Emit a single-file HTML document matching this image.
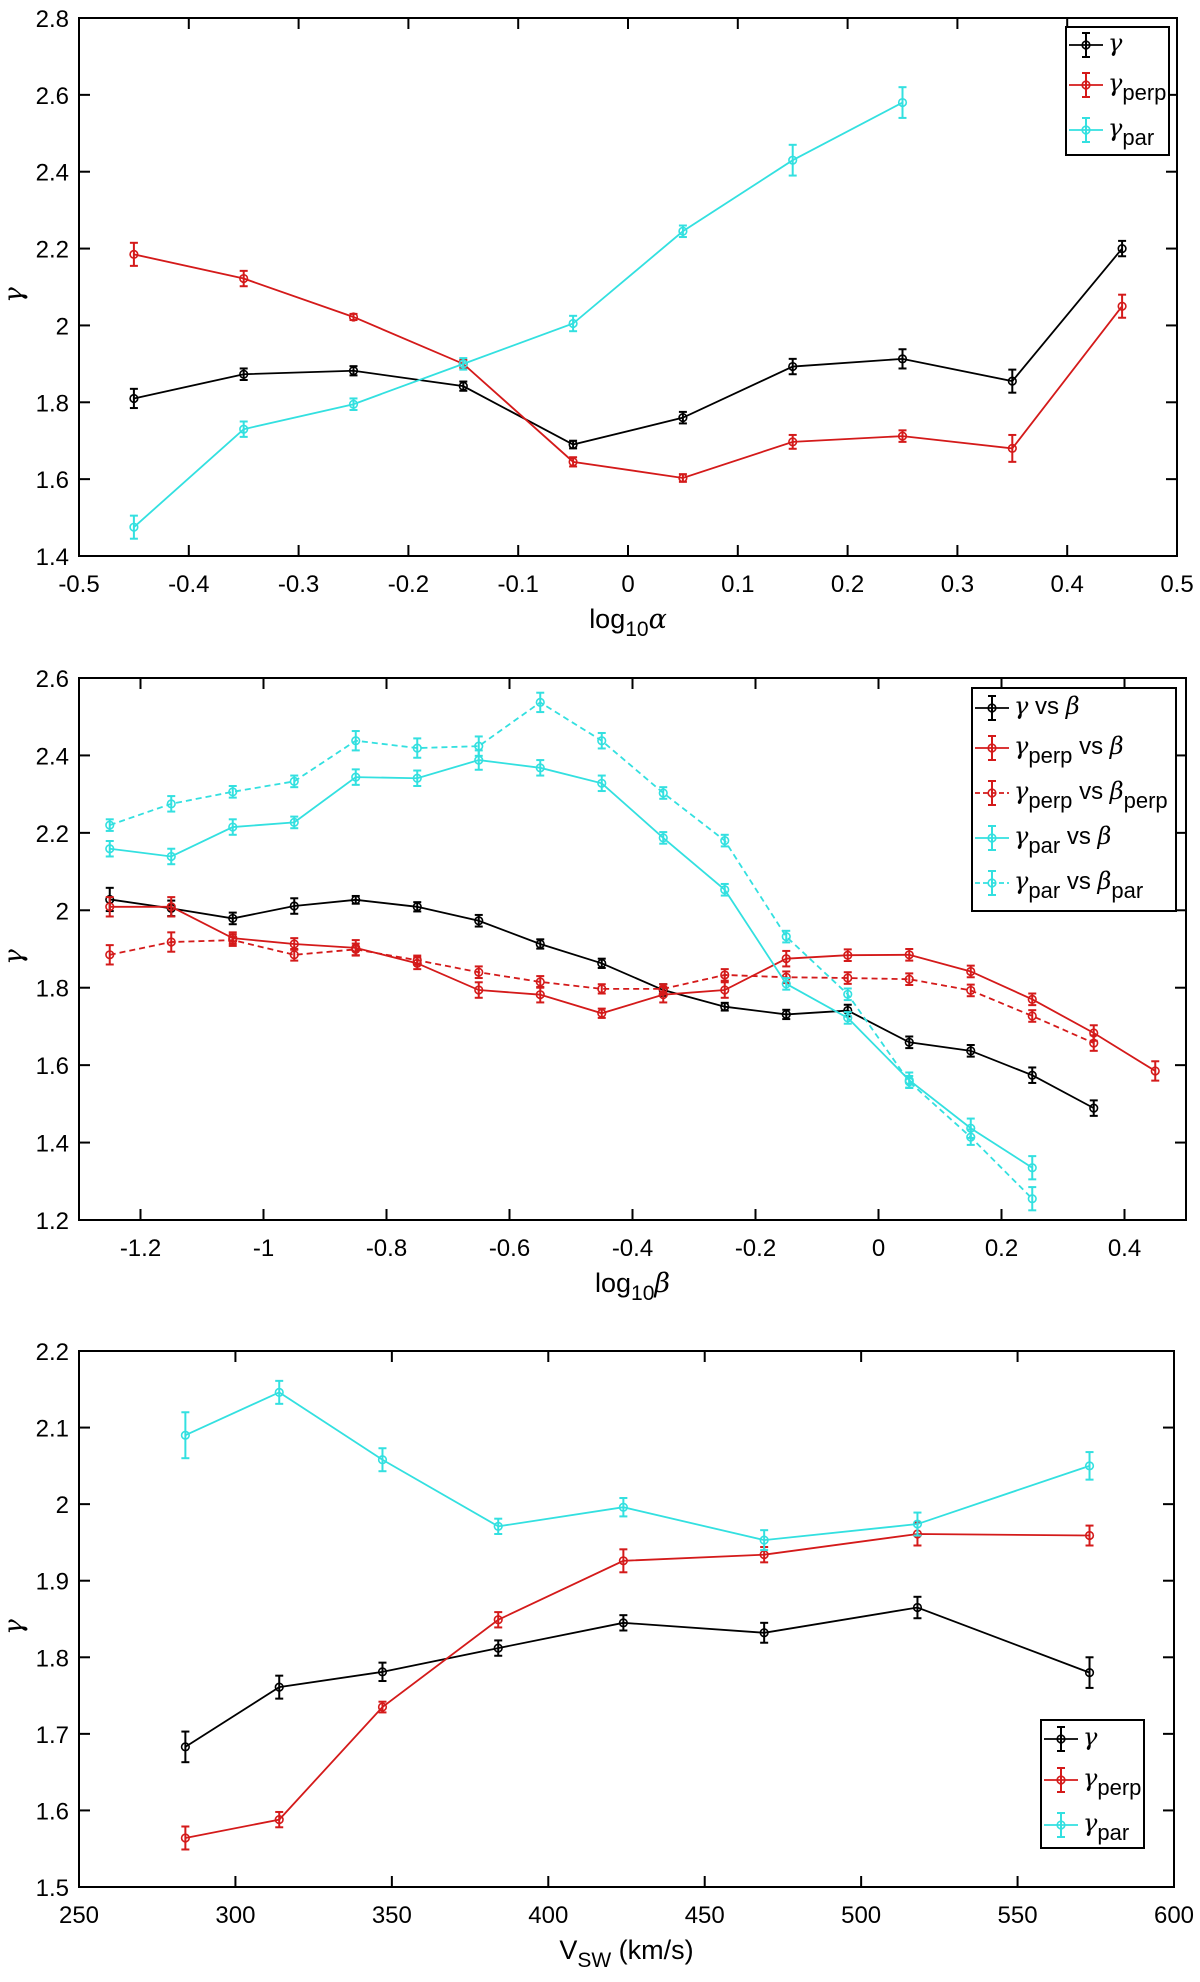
<!DOCTYPE html>
<html><head><meta charset="utf-8">
<style>
html,body{margin:0;padding:0;background:#fff;}
svg{display:block;font-family:"Liberation Sans",sans-serif;}
</style></head>
<body>
<svg id="fig" width="1200" height="1982" viewBox="0 0 1200 1982" xmlns="http://www.w3.org/2000/svg"></svg>
<script>
// ---------- Panel 1 data ----------
const p1X = [-0.45,-0.35,-0.25,-0.15,-0.05,0.05,0.15,0.25,0.35,0.45];
const p1Gamma = [1.81,1.873,1.882,1.842,1.69,1.76,1.893,1.913,1.855,2.2];
const p1GammaErr = [0.025,0.015,0.012,0.012,0.01,0.015,0.02,0.025,0.03,0.02];
const p1Perp = [2.185,2.122,2.022,1.9,1.645,1.603,1.697,1.712,1.68,2.05];
const p1PerpErr = [0.03,0.02,0.008,0.01,0.012,0.01,0.018,0.015,0.035,0.03];
const p1ParX = [-0.45,-0.35,-0.25,-0.15,-0.05,0.05,0.15,0.25];
const p1Par = [1.475,1.73,1.795,1.9,2.005,2.245,2.43,2.58];
const p1ParErr = [0.03,0.02,0.015,0.015,0.02,0.015,0.04,0.04];
const p1XTicks = [-0.5,-0.4,-0.3,-0.2,-0.1,0,0.1,0.2,0.3,0.4,0.5];
const p1XTickLabels = ["-0.5","-0.4","-0.3","-0.2","-0.1","0","0.1","0.2","0.3","0.4","0.5"];
const p1YTicks = [1.4,1.6,1.8,2,2.2,2.4,2.6,2.8];
const p1YTickLabels = ["1.4","1.6","1.8","2","2.2","2.4","2.6","2.8"];

// ---------- Panel 2 data ----------
const p2XGamma = [-1.25,-1.15,-1.05,-0.95,-0.85,-0.75,-0.65,-0.55,-0.45,-0.35,-0.25,-0.15,-0.05,0.05,0.15,0.25,0.35];
const p2Gamma = [2.028,2.005,1.979,2.011,2.027,2.009,1.973,1.913,1.863,1.794,1.751,1.731,1.741,1.659,1.637,1.574,1.489];
const p2GammaErr = [0.03,0.02,0.015,0.02,0.01,0.012,0.015,0.012,0.012,0.015,0.01,0.012,0.015,0.015,0.015,0.02,0.02];
const p2XPerp = [-1.25,-1.15,-1.05,-0.95,-0.85,-0.75,-0.65,-0.55,-0.45,-0.35,-0.25,-0.15,-0.05,0.05,0.15,0.25,0.35,0.45];
const p2Perp = [2.009,2.009,1.928,1.913,1.903,1.863,1.794,1.782,1.734,1.782,1.794,1.875,1.884,1.885,1.842,1.77,1.683,1.585];
const p2PerpErr = [0.025,0.025,0.015,0.015,0.02,0.015,0.02,0.02,0.012,0.02,0.02,0.02,0.015,0.015,0.015,0.015,0.02,0.025];
const p2XPerpB = [-1.25,-1.15,-1.05,-0.95,-0.85,-0.75,-0.65,-0.55,-0.45,-0.35,-0.25,-0.15,-0.05,0.05,0.15,0.25,0.35];
const p2PerpB = [1.885,1.918,1.923,1.885,1.899,1.871,1.84,1.815,1.797,1.797,1.833,1.827,1.825,1.822,1.793,1.727,1.657];
const p2PerpBErr = [0.025,0.025,0.015,0.015,0.015,0.012,0.015,0.015,0.012,0.012,0.015,0.015,0.015,0.015,0.015,0.015,0.02];
const p2XPar = [-1.25,-1.15,-1.05,-0.95,-0.85,-0.75,-0.65,-0.55,-0.45,-0.35,-0.25,-0.15,-0.05,0.05,0.15,0.25];
const p2Par = [2.159,2.139,2.215,2.227,2.344,2.341,2.388,2.368,2.328,2.187,2.053,1.81,1.722,1.561,1.437,1.335];
const p2ParErr = [0.02,0.02,0.02,0.015,0.02,0.02,0.025,0.02,0.02,0.015,0.015,0.015,0.015,0.02,0.025,0.03];
const p2ParB = [2.22,2.275,2.306,2.333,2.438,2.419,2.424,2.537,2.438,2.303,2.18,1.932,1.783,1.557,1.414,1.255];
const p2ParBErr = [0.015,0.02,0.015,0.015,0.025,0.025,0.025,0.025,0.02,0.015,0.015,0.015,0.015,0.015,0.02,0.03];
const p2XTicks = [-1.2,-1,-0.8,-0.6,-0.4,-0.2,0,0.2,0.4];
const p2XTickLabels = ["-1.2","-1","-0.8","-0.6","-0.4","-0.2","0","0.2","0.4"];
const p2YTicks = [1.2,1.4,1.6,1.8,2,2.2,2.4,2.6];
const p2YTickLabels = ["1.2","1.4","1.6","1.8","2","2.2","2.4","2.6"];

// ---------- Panel 3 data ----------
const p3X = [284,314,347,384,424,469,518,573];
const p3Gamma = [1.683,1.761,1.781,1.812,1.845,1.832,1.865,1.78];
const p3GammaErr = [0.02,0.015,0.012,0.01,0.01,0.013,0.014,0.02];
const p3Perp = [1.564,1.588,1.735,1.849,1.926,1.934,1.961,1.959];
const p3PerpErr = [0.015,0.01,0.007,0.01,0.015,0.01,0.015,0.013];
const p3Par = [2.09,2.146,2.058,1.971,1.996,1.953,1.974,2.05];
const p3ParErr = [0.03,0.015,0.015,0.01,0.012,0.013,0.015,0.018];
const p3XTicks = [250,300,350,400,450,500,550,600];
const p3XTickLabels = ["250","300","350","400","450","500","550","600"];
const p3YTicks = [1.5,1.6,1.7,1.8,1.9,2,2.1,2.2];
const p3YTickLabels = ["1.5","1.6","1.7","1.8","1.9","2","2.1","2.2"];

const BLACK="#000", RED="#d41a1a", CYAN="#33e0e0";
const NS="http://www.w3.org/2000/svg";
const svg=document.getElementById('fig');
function mk(tag,attrs,parent){const e=document.createElementNS(NS,tag);for(const k in attrs)e.setAttribute(k,attrs[k]);(parent||svg).appendChild(e);return e;}

function panel(name,box,xr,yr,xt,xtl,yt,ytl,xlabelFn){
  const g=mk('g',{});
  
  
  const sx=v=>box.l+(v-xr[0])/(xr[1]-xr[0])*(box.r-box.l);
  const sy=v=>box.b-(v-yr[0])/(yr[1]-yr[0])*(box.b-box.t);
  const frame=mk('rect',{x:box.l,y:box.t,width:box.r-box.l,height:box.b-box.t,fill:'none',stroke:'#000','stroke-width':2},g);
  
  
  xt.forEach((v,i)=>{
    const x=sx(v);
    mk('line',{x1:x,x2:x,y1:box.b,y2:box.b-11,stroke:'#000','stroke-width':2},g);
    mk('line',{x1:x,x2:x,y1:box.t,y2:box.t+11,stroke:'#000','stroke-width':2},g);
    const t=mk('text',{x:x,y:box.b+36,'text-anchor':'middle','font-size':24},g);
    t.textContent=xtl[i];
    
    
  });
  yt.forEach((v,i)=>{
    const y=sy(v);
    mk('line',{x1:box.l,x2:box.l+11,y1:y,y2:y,stroke:'#000','stroke-width':2},g);
    mk('line',{x1:box.r,x2:box.r-11,y1:y,y2:y,stroke:'#000','stroke-width':2},g);
    const t=mk('text',{x:box.l-10,y:y+9,'text-anchor':'end','font-size':24},g);
    t.textContent=ytl[i];
    
    
  });
  const yl=mk('text',{x:0,y:0,'font-size':26,'font-style':'italic','font-family':'"DejaVu Serif",serif',transform:`translate(22,${(box.t+box.b)/2+8}) rotate(-90)`,'text-anchor':'middle'},g);
  yl.textContent='γ';
  
  
  xlabelFn(g,(box.l+box.r)/2,box.b+80);
  return {g,sx,sy};
}

function series(p,name,xs,ys,es,color,dash){
  const g=mk('g',{},p.g);
  
  
  const pts=xs.map((x,i)=>p.sx(x)+','+p.sy(ys[i])).join(' ');
  const line=mk('polyline',{points:pts,fill:'none',stroke:color,'stroke-width':1.8,'stroke-dasharray':dash?'6,4':'none'},g);
  
  
  xs.forEach((x,i)=>{
    const cx=p.sx(x), y1=p.sy(ys[i]-es[i]), y2=p.sy(ys[i]+es[i]);
    mk('line',{x1:cx,x2:cx,y1:y1,y2:y2,stroke:color,'stroke-width':2},g);
    mk('line',{x1:cx-4,x2:cx+4,y1:y1,y2:y1,stroke:color,'stroke-width':2},g);
    mk('line',{x1:cx-4,x2:cx+4,y1:y2,y2:y2,stroke:color,'stroke-width':2},g);
    const c=mk('circle',{cx:cx,cy:p.sy(ys[i]),r:3.8,fill:'none',stroke:color,'stroke-width':1.6},g);
    
    
  });
}

function legend(parent,box,entries){
  const g=mk('g',{},parent);
  
  
  mk('rect',{x:box.x,y:box.y,width:box.w,height:box.h,fill:'#fff',stroke:'#000','stroke-width':2},g);
  entries.forEach(en=>{
    const e=mk('g',{},g);
    
    
    const y=en.y, x0=box.x+3, x1=x0+34, mx=(x0+x1)/2;
    mk('line',{x1:x0,x2:x1,y1:y,y2:y,stroke:en.c,'stroke-width':1.8,'stroke-dasharray':en.dash?'5,3':'none'},e);
    mk('line',{x1:mx,x2:mx,y1:y-12,y2:y+12,stroke:en.c,'stroke-width':2},e);
    mk('line',{x1:mx-4,x2:mx+4,y1:y-12,y2:y-12,stroke:en.c,'stroke-width':2},e);
    mk('line',{x1:mx-4,x2:mx+4,y1:y+12,y2:y+12,stroke:en.c,'stroke-width':2},e);
    mk('circle',{cx:mx,cy:y,r:3.8,fill:'none',stroke:en.c,'stroke-width':1.6},e);
    const t=mk('text',{x:x1+5,y:y+6,'font-size':24},e);
    t.innerHTML=en.html;
  });
}
const G='<tspan font-family="DejaVu Serif,serif" font-style="italic">γ</tspan>';
const B='<tspan font-family="DejaVu Serif,serif" font-style="italic">β</tspan>';
function sub(s){return `<tspan dy="9" font-size="22">${s}</tspan><tspan dy="-9"> </tspan>`;}

// Panel 1
const P1=panel('panel-alpha',{l:79,r:1177,t:18,b:556},[-0.5,0.5],[1.4,2.8],p1XTicks,p1XTickLabels,p1YTicks,p1YTickLabels,(g,x,y)=>{
  const t=mk('text',{x:x,y:y-8,'text-anchor':'middle','font-size':27},g);
  t.innerHTML='log<tspan dy="8" font-size="21">10</tspan><tspan dy="-8" font-family="DejaVu Serif,serif" font-style="italic">α</tspan>';
  
  
});
series(P1,'gamma',p1X,p1Gamma,p1GammaErr,BLACK);
series(P1,'gamma-perp',p1X,p1Perp,p1PerpErr,RED);
series(P1,'gamma-par',p1ParX,p1Par,p1ParErr,CYAN);
legend(P1.g,{x:1066,y:27,w:103,h:128},[
  {c:BLACK,y:45,html:G},{c:RED,y:85,html:G+'<tspan dy="9" font-size="22">perp</tspan>'},{c:CYAN,y:130,html:G+'<tspan dy="9" font-size="22">par</tspan>'}]);

// Panel 2
const P2=panel('panel-beta',{l:79,r:1186,t:678,b:1220},[-1.3,0.5],[1.2,2.6],p2XTicks,p2XTickLabels,p2YTicks,p2YTickLabels,(g,x,y)=>{
  const t=mk('text',{x:x,y:y-8,'text-anchor':'middle','font-size':27},g);
  t.innerHTML='log<tspan dy="8" font-size="21">10</tspan><tspan dy="-8" font-family="DejaVu Serif,serif" font-style="italic">β</tspan>';
  
  
});
series(P2,'gamma-vs-beta',p2XGamma,p2Gamma,p2GammaErr,BLACK);
series(P2,'gamma-perp-vs-beta',p2XPerp,p2Perp,p2PerpErr,RED);
series(P2,'gamma-perp-vs-beta-perp',p2XPerpB,p2PerpB,p2PerpBErr,RED,true);
series(P2,'gamma-par-vs-beta',p2XPar,p2Par,p2ParErr,CYAN);
series(P2,'gamma-par-vs-beta-par',p2XPar,p2ParB,p2ParBErr,CYAN,true);
legend(P2.g,{x:972,y:688,w:204,h:223},[
  {c:BLACK,y:708,html:G+' vs '+B},
  {c:RED,y:748,html:G+sub('perp')+'vs '+B},
  {c:RED,y:793,dash:true,html:G+sub('perp')+'vs '+B+'<tspan dy="9" font-size="22">perp</tspan>'},
  {c:CYAN,y:838,html:G+sub('par')+'vs '+B},
  {c:CYAN,y:883,dash:true,html:G+sub('par')+'vs '+B+'<tspan dy="9" font-size="22">par</tspan>'}]);

// Panel 3
const P3=panel('panel-vsw',{l:79,r:1174,t:1351,b:1887},[250,600],[1.5,2.2],p3XTicks,p3XTickLabels,p3YTicks,p3YTickLabels,(g,x,y)=>{
  const t=mk('text',{x:x,y:y-8,'text-anchor':'middle','font-size':27},g);
  t.innerHTML='V<tspan dy="8" font-size="21">SW</tspan><tspan dy="-8"> (km/s)</tspan>';
  
  
});
series(P3,'gamma',p3X,p3Gamma,p3GammaErr,BLACK);
series(P3,'gamma-perp',p3X,p3Perp,p3PerpErr,RED);
series(P3,'gamma-par',p3X,p3Par,p3ParErr,CYAN);
legend(P3.g,{x:1041,y:1720,w:103,h:128},[
  {c:BLACK,y:1739,html:G},{c:RED,y:1780,html:G+'<tspan dy="9" font-size="22">perp</tspan>'},{c:CYAN,y:1825,html:G+'<tspan dy="9" font-size="22">par</tspan>'}]);
</script>
</body></html>
